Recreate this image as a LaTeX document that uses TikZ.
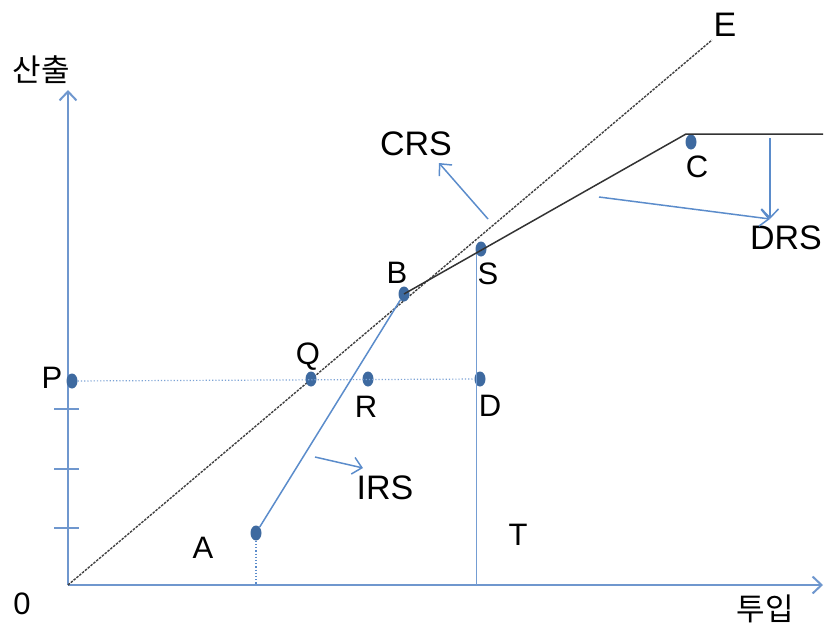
\documentclass[tikz,border=0pt]{standalone}
\usepackage{fontspec}
\setmainfont{Liberation Sans}
\newfontfamily\kor{Noto Sans CJK KR}
\usepackage{tikz}
\usetikzlibrary{arrows.meta,shapes}
\definecolor{axisblue}{HTML}{6F97CE}
\definecolor{lineblue}{HTML}{5B8CCB}
\definecolor{dotblue}{HTML}{3E6AA0}

\begin{document}
\begin{tikzpicture}[x=1pt,y=-1pt,
  dot/.style={ellipse,fill=dotblue,minimum width=11pt,minimum height=15pt,inner sep=0pt},
  lbl/.style={font=\fontsize{31}{31}\selectfont,inner sep=0pt},
  big/.style={font=\fontsize{34}{34}\selectfont,inner sep=0pt},
  kr/.style={font=\kor\fontsize{31}{31}\selectfont,inner sep=0pt},
  arr/.style={-{Straight Barb[length=9pt,width=17pt]}},
  axis/.style={axisblue,line width=2pt}]
  \useasboundingbox (0,0) rectangle (825,632);
  % axes
  \coordinate (O) at (68,585);
  \coordinate (ytop) at (68,90);
  \coordinate (xend) at (823,585);
  \draw[axis,arr] (O) -- (ytop);
  \draw[axis,arr] (O) -- (xend);
  \foreach \y in {409,469,528} \draw[axisblue,line width=1.5pt] (54,\y) -- (79,\y);
  \node[kr] (yl) at (41,70) {산출};
  \node[kr] (xl) at (765,609) {투입};
  \node[lbl] (zero) at (22,604) {0};
  % CRS ray
  \coordinate (E) at (712,40);
  \draw[black!75,line width=1.4pt,dash pattern=on 2.5pt off 1.2pt] (O) -- (E);
  \node[big] (El) at (725,25) {E};
  % points
  \node[dot] (P) at (72,381) {};
  \node[dot] (Q) at (311,379) {};
  \node[dot] (R) at (368,379) {};
  \node[dot] (D) at (480,379) {};
  \node[dot] (A) at (256,533) {};
  \node[dot] (B) at (404,294) {};
  \node[dot] (S) at (481,249) {};
  \node[dot] (C) at (691,142) {};
  \node[lbl] (Pl) at (52,378) {P};
  \node[lbl] (Ql) at (308,357) {Q};
  \node[lbl] (Rl) at (366,407) {R};
  \node[lbl] (Dl) at (490,406) {D};
  \node[lbl] (Al) at (203,548) {A};
  \node[lbl] (Bl) at (397,273) {B};
  \node[lbl] (Sl) at (488,274) {S};
  \node[lbl] (Cl) at (697,167) {C};
  \node[lbl] (Tl) at (518,535) {T};
  % guide lines
  \coordinate (Sfoot) at (476,585);
  \coordinate (Stop) at (476,253);
  \draw[lineblue!80,line width=1.2pt,dotted] (P) -- (D);
  \draw[lineblue!85,line width=1pt] (Stop) -- (Sfoot);
  \draw[lineblue,line width=1.2pt,dotted] (A.south) -- (A.south |- O);
  % production function
  \coordinate (Ccorner) at (686,134);
  \coordinate (Cend) at (823,134);
  \draw[lineblue,line width=1.5pt] (A) -- (B);
  \draw[black!80,line width=1.5pt] (B.center) -- (Ccorner) -- (Cend);
  % labels and pointers
  \node[big] (CRS) at (416,144) {CRS};
  \node[big] (DRS) at (786,238) {DRS};
  \node[big] (IRS) at (385,488) {IRS};
  \coordinate (crs0) at (488,219);
  \coordinate (crs1) at (439,163);
  \coordinate (drs0) at (599,197);
  \coordinate (drs1) at (770,219);
  \coordinate (drs2) at (770,138);
  \coordinate (irs0) at (315,457);
  \coordinate (irs1) at (363,468);
  \draw[lineblue,line width=1.5pt,arr] (crs0) -- (crs1);
  \draw[lineblue,line width=1.5pt,arr] (drs0) -- (drs1);
  \draw[lineblue,line width=1.5pt,arr] (drs2) -- (drs1);
  \draw[lineblue,line width=1.5pt,arr] (irs0) -- (irs1);
\end{tikzpicture}
\end{document}
